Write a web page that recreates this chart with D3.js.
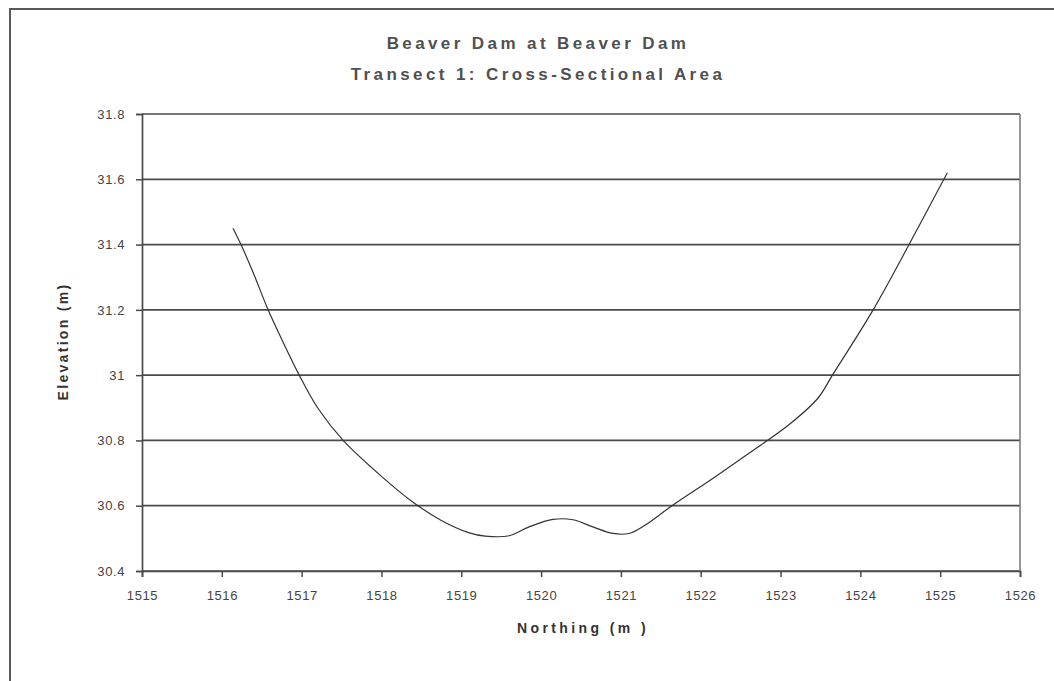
<!DOCTYPE html>
<html>
<head>
<meta charset="utf-8">
<script src="https://cdn.jsdelivr.net/npm/d3@7"></script>
<style>
  html, body { margin: 0; padding: 0; background: #fff; }
  svg { display: block; }
  text { font-family: "Liberation Sans", Arial, sans-serif; }
</style>
</head>
<body>
<svg id="chart" width="1054" height="681"></svg>
<script>
// ---- data ----
const titleLines = ["Beaver Dam at Beaver Dam", "Transect 1: Cross-Sectional Area"];
const xLabel = "Northing (m )";
const yLabel = "Elevation (m)";
const northing = [1516.14, 1516.24, 1516.4, 1516.58, 1516.75, 1516.97, 1517.2, 1517.52, 1518.0, 1518.4, 1518.75, 1519.1, 1519.3, 1519.6, 1519.85, 1520.15, 1520.4, 1520.65, 1520.9, 1521.1, 1521.3, 1521.64, 1522.16, 1522.6, 1523.1, 1523.47, 1523.65, 1524.16, 1524.61, 1524.85, 1525.09];
const elevation = [31.45, 31.40, 31.31, 31.20, 31.11, 31.00, 30.90, 30.80, 30.69, 30.61, 30.555, 30.517, 30.507, 30.508, 30.535, 30.558, 30.557, 30.535, 30.515, 30.515, 30.54, 30.60, 30.685, 30.76, 30.847, 30.93, 31.00, 31.20, 31.40, 31.51, 31.62];
const xTicks = [1515, 1516, 1517, 1518, 1519, 1520, 1521, 1522, 1523, 1524, 1525, 1526];
const yTicks = [30.4, 30.6, 30.8, 31, 31.2, 31.4, 31.6, 31.8];

// ---- layout ----
const svg = d3.select("#chart");
const plot = { left: 142, right: 1020, top: 114, bottom: 571 };

const x = d3.scaleLinear().domain([1515, 1526]).range([plot.left, plot.right]);
const y = d3.scaleLinear().domain([30.4, 31.8]).range([plot.bottom, plot.top]);

// outer chart frame
svg.append("rect")
  .attr("x", 10).attr("y", 9)
  .attr("width", 1100).attr("height", 700)
  .attr("fill", "none").attr("stroke", "#5a5a5a").attr("stroke-width", 2);

// title
const title = svg.append("g").attr("fill", "#505050")
  .attr("font-size", 17).attr("font-weight", "bold")
  .attr("letter-spacing", "3.4px").attr("text-anchor", "middle");
title.selectAll("text").data(titleLines).join("text")
  .attr("x", 538).attr("y", (d, i) => 49 + i * 31)
  .text(d => d);

// gridlines
svg.append("g")
  .selectAll("line").data(yTicks).join("line")
  .attr("x1", plot.left).attr("x2", plot.right)
  .attr("y1", d => y(d)).attr("y2", d => y(d))
  .attr("stroke", "#4a4a4a").attr("stroke-width", 1.7);

// right border of plot area
svg.append("line")
  .attr("x1", plot.right).attr("x2", plot.right)
  .attr("y1", plot.top).attr("y2", plot.bottom)
  .attr("stroke", "#777").attr("stroke-width", 1.5);

// axes
const yAxis = d3.axisLeft(y).tickValues(yTicks).tickSize(6).tickPadding(11)
  .tickFormat(d => String(+d.toFixed(1)));
const xAxis = d3.axisBottom(x).tickValues(xTicks).tickSize(6).tickPadding(14)
  .tickFormat(d => String(d));

const gy = svg.append("g").attr("transform", `translate(${plot.left},0)`).call(yAxis);
const gx = svg.append("g").attr("transform", `translate(0,${plot.bottom})`).call(xAxis);

[gx, gy].forEach(g => {
  g.select(".domain").attr("stroke", "#4a4a4a").attr("stroke-width", 1.7);
  g.selectAll(".tick line").attr("stroke", "#4a4a4a").attr("stroke-width", 1.5);
  g.selectAll(".tick text")
    .attr("font-family", "'Liberation Sans', Arial, sans-serif")
    .attr("font-size", 13).attr("fill", "#444").attr("letter-spacing", "0.6px");
});

// axis titles
svg.append("text")
  .attr("x", 583).attr("y", 633)
  .attr("text-anchor", "middle").attr("font-size", 14).attr("font-weight", "bold")
  .attr("letter-spacing", "3.4px").attr("fill", "#333")
  .text(xLabel);

svg.append("text")
  .attr("transform", `translate(68,${(plot.top + plot.bottom) / 2 - 1}) rotate(-90)`)
  .attr("text-anchor", "middle").attr("font-size", 14).attr("font-weight", "bold")
  .attr("letter-spacing", "2.3px").attr("fill", "#333")
  .text(yLabel);

// series line
const data = northing.map((n, i) => ({ n, e: elevation[i] }));
const line = d3.line().x(d => x(d.n)).y(d => y(d.e)).curve(d3.curveCatmullRom.alpha(0.5));
svg.append("path").datum(data)
  .attr("d", line)
  .attr("fill", "none").attr("stroke", "#333").attr("stroke-width", 1.2);
</script>
</body>
</html>
